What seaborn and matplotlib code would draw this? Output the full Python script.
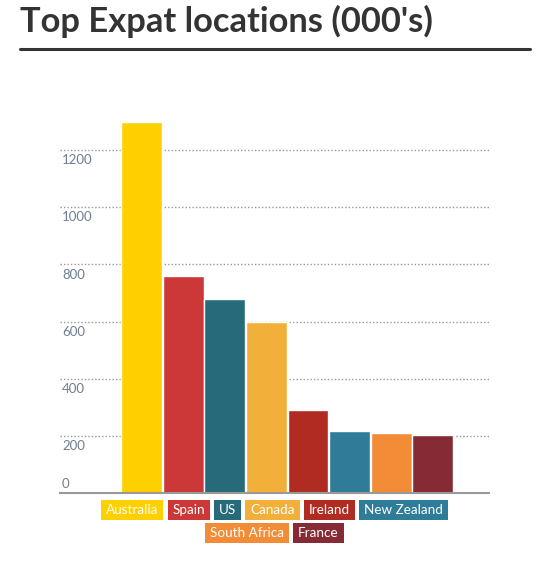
import matplotlib
matplotlib.use('Agg')
import matplotlib.pyplot as plt
import matplotlib.patches as mpatches
import matplotlib.transforms as mtrans
import seaborn as sns
import pandas as pd

countries = ['Australia', 'Spain', 'US', 'Canada', 'Ireland', 'New Zealand', 'South Africa', 'France']
values = [1300, 760, 680, 600, 292, 216, 211, 202]
colors = ['#FFD000', '#CC3737', '#276B7A', '#F2B03A', '#B02B22', '#2F7C99', '#F28C36', '#862B35']
yticks = [0, 200, 400, 600, 800, 1000, 1200]
title = "Top Expat locations (000's)"

sns.set_style('white')
plt.rcParams['font.family'] = ['Lato', 'DejaVu Sans']

W, H = 550, 570
fig = plt.figure(figsize=(W / 100, H / 100), dpi=100)
ax = fig.add_axes([60 / W, 1 - 493 / H, 429 / W, 400 / H])

df = pd.DataFrame({'country': countries, 'value': values})
sns.barplot(data=df, x='country', y='value', hue='country',
            palette=dict(zip(countries, colors)), saturation=1,
            width=0.98, edgecolor='white', linewidth=1, legend=False, ax=ax)
ax.set_xlim(-1.96, 8.35)
ax.set_ylim(0, 1400)
ax.set_yticks(yticks)
ax.yaxis.grid(True, linestyle=(0, (1, 1.5)), color='#999999', linewidth=1)
ax.set_axisbelow(True)
ax.tick_params(length=0, labelleft=False, labelbottom=False)
ax.set_xlabel('')
ax.set_ylabel('')
for s in ['top', 'right', 'left']:
    ax.spines[s].set_visible(False)
ax.spines['bottom'].set_color('#999999')
ax.spines['bottom'].set_linewidth(1.5)

# y labels sit inside the plot, hanging under their grid line (the 0 sits above)
trans = mtrans.blended_transform_factory(ax.transAxes, ax.transData)
for v in yticks:
    if v == 0:
        ax.annotate(str(v), xy=(0, v), xycoords=trans, xytext=(1.5, 2.5),
                    textcoords='offset points', va='bottom', ha='left',
                    color='#6f7e8f', fontsize=9.5)
    else:
        ax.annotate(str(v), xy=(0, v), xycoords=trans, xytext=(1.5, -3),
                    textcoords='offset points', va='top', ha='left',
                    color='#6f7e8f', fontsize=9.5)

# title + rule
fig.text(20 / W, 1 - 5 / H, title, ha='left', va='top', fontsize=24.8,
         fontweight='bold', color='#333333')
fig.add_artist(plt.Line2D([20 / W, 530 / W], [1 - 49 / H, 1 - 49 / H],
                          transform=fig.transFigure, color='#333333', linewidth=2.2))

# legend: coloured boxes with white labels, wrapped into centred rows
fig.canvas.draw()
renderer = fig.canvas.get_renderer()
padx, gap, box_h, max_row = 5, 4, 20, 360
labels = []
for name, c in zip(countries, colors):
    t = fig.text(0, 0, name, color='white', fontsize=9.7, ha='center', va='center')
    w = t.get_window_extent(renderer).width
    labels.append((t, w + 2 * padx, c))
rows, row, row_w = [], [], 0
for item in labels:
    add = item[1] + (gap if row else 0)
    if row and row_w + add > max_row:
        rows.append((row, row_w))
        row, row_w = [], 0
        add = item[1]
    row.append(item)
    row_w += add
rows.append((row, row_w))

cx = 274.5
top = 500
for r, (row, row_w) in enumerate(rows):
    x = cx - row_w / 2
    y0 = top + r * (box_h + 3)
    for t, bw, c in row:
        fig.add_artist(mpatches.Rectangle((x / W, 1 - (y0 + box_h) / H), bw / W, box_h / H,
                                          transform=fig.transFigure, facecolor=c,
                                          edgecolor='none'))
        t.set_position(((x + bw / 2) / W, 1 - (y0 + box_h / 2) / H))
        t.set_zorder(5)
        x += bw + gap

fig.savefig('out.png', dpi=100)
